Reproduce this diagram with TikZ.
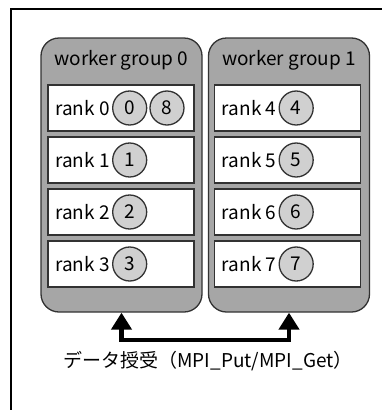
\documentclass[tikz,border=0pt]{standalone}
\usepackage{fontspec}
\setmainfont{Noto Sans CJK JP}
\usepackage{xcolor}
\usepackage{tikz}
\usetikzlibrary{arrows.meta,positioning}

\definecolor{cinza}{RGB}{166,166,166}
\definecolor{cinzaclaro}{RGB}{208,208,208}
\definecolor{borda}{RGB}{50,50,50}

\begin{document}
\begin{tikzpicture}[
    x=1pt, y=-1pt,
    >=Triangle,
    font=\fontsize{19}{22}\selectfont,
    every node/.style={font=\fontsize{19}{22}\selectfont},
    grupo/.style={draw=borda, line width=1.3pt, fill=cinza, rounded corners=18pt,
        minimum width=161pt, minimum height=274pt},
    caixa/.style={draw=borda, line width=1.6pt, fill=white,
        minimum width=146pt, minimum height=46pt},
    bola/.style={circle, draw=borda, line width=1.3pt, fill=cinzaclaro,
        minimum size=34pt, inner sep=0pt},
    texto/.style={inner sep=1pt}
]

\useasboundingbox (0,0) rectangle (382,410);

%------------------------------------------------
% Moldura
%------------------------------------------------
\draw[line width=1.5pt] (11,410) -- (11,9) -- (382,9);

%------------------------------------------------
% Grupos
%------------------------------------------------
\foreach \x/\nome/\n in {
121.5/g0/0,
289/g1/1}
{
    \node[grupo] (\nome) at (\x,175) {};
    \node[texto] (\nome t) at (\x,60) {worker group \n};
}

%------------------------------------------------
% Ranks
%------------------------------------------------
\foreach \x/\y/\r in {
121/108/0, 121/160/1, 121/212/2, 121/264/3,
287.5/108/4, 287.5/160/5, 287.5/212/6, 287.5/264/7}
{
    \node[caixa] (r\r) at (\x,\y) {};
    \node[texto, right=7pt of r\r.west] (r\r t) {rank \r};
    \node[bola, right=1pt of r\r t] (b\r) {\r};
}

% rank 0 tem dois
\node[bola, right=2pt of b0] (b8) {8};

%------------------------------------------------
% Troca de dados
%------------------------------------------------
\coordinate (meio) at (205,340);
\draw[<->, line width=4.5pt, >={Triangle[width=20pt,length=17pt]}]
(g0.south) |- (meio) -| (g1.south);

\node[texto] (rotulo) at (208,361) {データ授受（MPI\_Put/MPI\_Get）};

\end{tikzpicture}
\end{document}
